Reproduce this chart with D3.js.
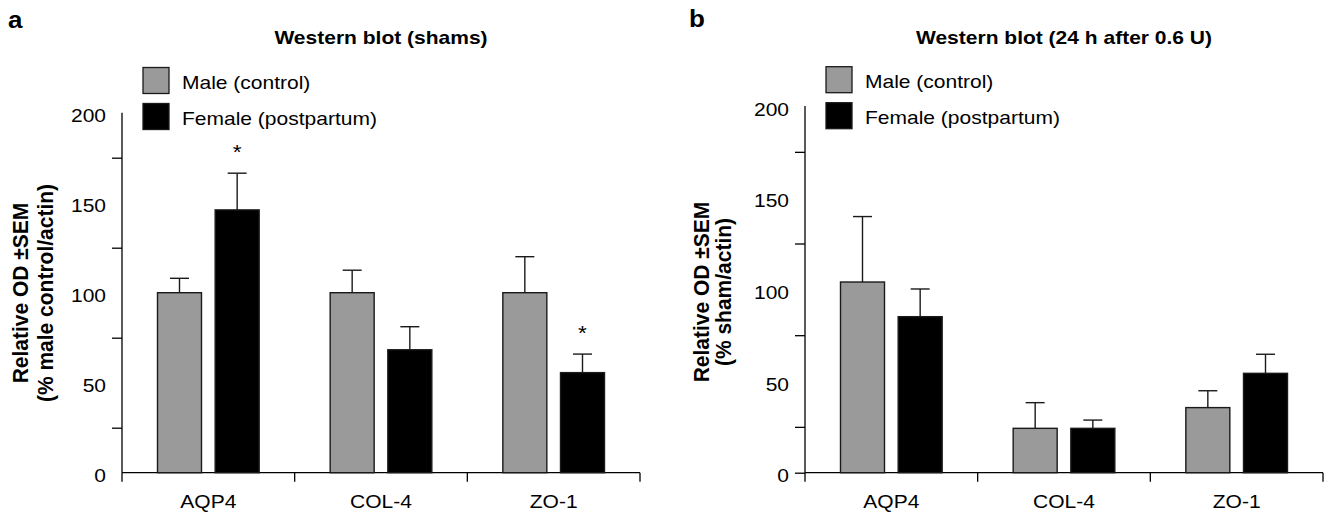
<!DOCTYPE html>
<html>
<head>
<meta charset="utf-8">
<script src="https://cdn.jsdelivr.net/npm/d3@7"></script>
<style>
  body { margin: 0; background: #fff; }
  text { font-family: "Liberation Sans", Arial, Helvetica, sans-serif; fill: #000; }
</style>
</head>
<body>
<svg id="canvas" width="1326" height="512"></svg>
<script>
// values (relative OD, % of control)
const categories = ["AQP4", "COL-4", "ZO-1"];
const groups = ["Male (control)", "Female (postpartum)"];

const shamMale = [100, 100, 100];
const shamMaleSem = [8, 12.5, 20];
const shamFemale = [146, 68.3, 55.6];
const shamFemaleSem = [20.4, 12.8, 10.3];
const shamStars = [true, false, true];

const injMale = [104, 24.2, 35.5];
const injMaleSem = [35.7, 14, 9.2];
const injFemale = [85.1, 24.2, 54.2];
const injFemaleSem = [15.1, 4.5, 10.4];
const injStars = [false, false, false];

const labelTicks = [0, 50, 100, 150, 200];
const minorTicks = [25, 75, 125, 175];

const svg = d3.select("#canvas");
const stretch = 1.13; // text in the figure is a bit wide
const grey = "#9a9a9a";
const edge = "#1a1a1a";

//small helper so every horizontal label gets the same widening
const addText = (g, x, y, str, size, anchor, bold) => {
  return g.append("text")
    .attr("transform", `translate(${x},${y}) scale(${stretch},1)`)
    .attr("text-anchor", anchor)
    .style("font-size", size + "px")
    .style("font-weight", bold ? "bold" : "normal")
    .text(str);
};

const drawPanel = (p) => {
  const g = svg.append("g");

  const y = d3.scaleLinear().domain([0, 200]).range([p.yZero, p.yTop]);
  const x = d3.scaleBand().domain(categories).range([p.x0, p.x1]);
  const inner = d3.scaleBand().domain(groups)
    .range([35.5, x.bandwidth() - 35.5]).paddingInner(0.237);

  // panel letter + title
  addText(g, p.letterX, p.letterY, p.letter, 23, "start", true);
  addText(g, (p.x0 + p.x1) / 2, 44, p.title, 18.6, "middle", true);

  // y axis: plain line, minor ticks only
  g.append("line")
    .attr("x1", p.x0).attr("x2", p.x0)
    .attr("y1", y(0)).attr("y2", y(200))
    .attr("stroke", "#000").attr("stroke-width", 1.3);

  const minor = g.append("g")
    .attr("transform", `translate(${p.x0},0)`)
    .call(d3.axisLeft(y).tickValues(p.zeroTick ? [0].concat(minorTicks) : minorTicks)
      .tickSize(10).tickFormat(""));
  minor.select(".domain").remove();
  minor.selectAll("line").attr("stroke-width", 1.3);

  labelTicks.forEach((v) => {
    addText(g, p.x0 - 16, y(v) + 9.5, v, 18.6, "end", false);
  });

  // x axis with category separators
  g.append("line")
    .attr("x1", p.x0).attr("x2", p.x1)
    .attr("y1", y(0)).attr("y2", y(0))
    .attr("stroke", "#000").attr("stroke-width", 1.3);

  const bounds = categories.map((c) => x(c)).concat([p.x1]);
  g.selectAll(".sep").data(bounds).enter().append("line")
    .attr("x1", (d) => d).attr("x2", (d) => d)
    .attr("y1", y(0)).attr("y2", y(0) + 9)
    .attr("stroke", "#000").attr("stroke-width", 1.3);

  categories.forEach((c) => {
    addText(g, x(c) + x.bandwidth() / 2, 508, c, 18.6, "middle", false);
  });

  // bars
  const rows = [];
  categories.forEach((c, i) => {
    rows.push({ cat: c, grp: groups[0], v: p.male[i], sem: p.maleSem[i], star: false });
    rows.push({ cat: c, grp: groups[1], v: p.female[i], sem: p.femaleSem[i], star: p.stars[i] });
  });

  const bar = g.selectAll(".bar").data(rows).enter().append("g");

  // error bars first so the bar edge sits on top
  bar.append("line")
    .attr("x1", (d) => x(d.cat) + inner(d.grp) + inner.bandwidth() / 2)
    .attr("x2", (d) => x(d.cat) + inner(d.grp) + inner.bandwidth() / 2)
    .attr("y1", (d) => y(d.v)).attr("y2", (d) => y(d.v + d.sem))
    .attr("stroke", edge).attr("stroke-width", 1.4);
  bar.append("line")
    .attr("x1", (d) => x(d.cat) + inner(d.grp) + inner.bandwidth() / 2 - 9.5)
    .attr("x2", (d) => x(d.cat) + inner(d.grp) + inner.bandwidth() / 2 + 9.5)
    .attr("y1", (d) => y(d.v + d.sem)).attr("y2", (d) => y(d.v + d.sem))
    .attr("stroke", edge).attr("stroke-width", 1.4);

  bar.append("rect")
    .attr("x", (d) => x(d.cat) + inner(d.grp))
    .attr("y", (d) => y(d.v))
    .attr("width", inner.bandwidth())
    .attr("height", (d) => y(0) - y(d.v))
    .attr("fill", (d) => d.grp === groups[0] ? grey : "#000")
    .attr("stroke", edge).attr("stroke-width", 1.4);

  rows.filter((d) => d.star).forEach((d) => {
    addText(g, x(d.cat) + inner(d.grp) + inner.bandwidth() / 2, y(d.v + d.sem) - 14, "*", 20, "middle", false);
  });

  // legend
  groups.forEach((name, i) => {
    const ly = p.legendY + i * 36;
    g.append("rect")
      .attr("x", p.x0 + 21).attr("y", ly)
      .attr("width", 26).attr("height", 26)
      .attr("fill", i === 0 ? grey : "#000")
      .attr("stroke", edge).attr("stroke-width", 1.3);
    addText(g, p.x0 + 60, ly + 21, name, 18.6, "start", false);
  });

  // y label, two lines
  p.ylabel.forEach((line, i) => {
    g.append("text")
      .attr("transform", `translate(${p.ylabelX[i]},${p.ylabelY}) scale(1.08,1) rotate(-90)`)
      .attr("text-anchor", "middle")
      .style("font-size", "21px")
      .style("font-weight", "bold")
      .text(line);
  });
};

drawPanel({
  x0: 122, x1: 640, yTop: 112.7, yZero: 472.7,
  letter: "a", letterX: 8, letterY: 28.3,
  title: "Western blot (shams)",
  male: shamMale, maleSem: shamMaleSem,
  female: shamFemale, femaleSem: shamFemaleSem, stars: shamStars,
  zeroTick: false, legendY: 67.5,
  ylabel: ["Relative OD \u00b1SEM", "(% male control/actin)"],
  ylabelX: [27.5, 53], ylabelY: 293
});

drawPanel({
  x0: 805, x1: 1323, yTop: 106, yZero: 472.7,
  letter: "b", letterX: 689, letterY: 26.7,
  title: "Western blot (24 h after 0.6 U)",
  male: injMale, maleSem: injMaleSem,
  female: injFemale, femaleSem: injFemaleSem, stars: injStars,
  zeroTick: true, legendY: 66.7,
  ylabel: ["Relative OD \u00b1SEM", "(% sham/actin)"],
  ylabelX: [708.5, 731], ylabelY: 292
});
</script>
</body>
</html>
